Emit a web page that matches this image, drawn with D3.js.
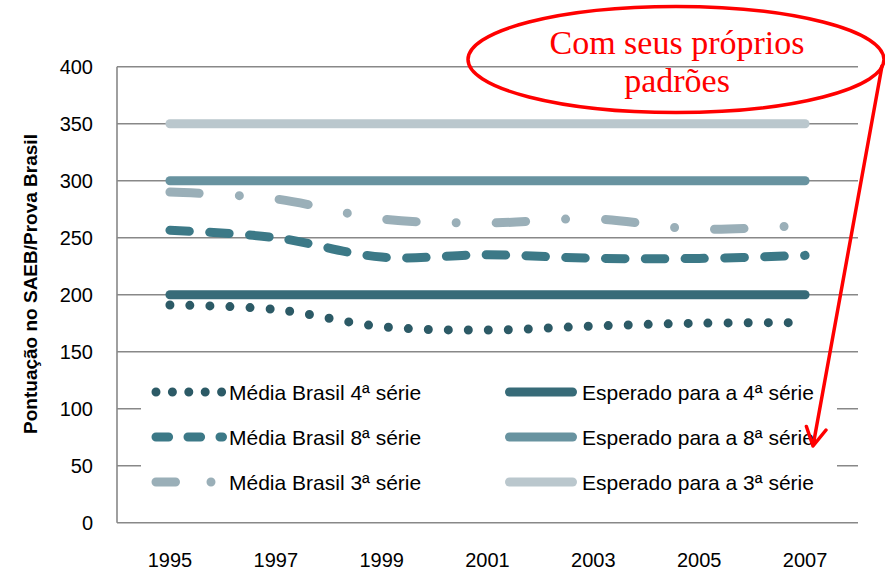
<!DOCTYPE html>
<html>
<head>
<meta charset="utf-8">
<script src="https://cdn.jsdelivr.net/npm/d3@7"></script>
<style>
  body { margin: 0; background: #fff; }
  svg { display: block; }
</style>
</head>
<body>
<div id="chart"></div>
<script>
// values (Língua Portuguesa, SAEB / Prova Brasil)
const years = [1995, 1997, 1999, 2001, 2003, 2005, 2007];
const yTicks = [0, 50, 100, 150, 200, 250, 300, 350, 400];
const media4 = [191, 187, 172, 169, 172.5, 175, 175.5];
const media8 = [256.5, 250, 233, 235, 232, 231.8, 234.5];
const media3 = [290, 284, 266.5, 263, 266.5, 257.5, 261];
const esperado4 = [200, 200, 200, 200, 200, 200, 200];
const esperado8 = [300, 300, 300, 300, 300, 300, 300];
const esperado3 = [350, 350, 350, 350, 350, 350, 350];
const seriesNames = [
    'Média Brasil 4ª série', 'Média Brasil 8ª série', 'Média Brasil 3ª série',
    'Esperado para a 4ª série', 'Esperado para a 8ª série', 'Esperado para a 3ª série'
];
const noteLines = ['Com seus próprios', 'padrões'];

const W = 885, H = 569;
const svg = d3.select('#chart').append('svg')
    .attr('width', W)
    .attr('height', H);

const x = d3.scaleLinear().domain([1994, 2008]).range([117, 858]);
const y = d3.scaleLinear().domain([0, 400]).range([522.7, 66.7]);

// grid
svg.append('g')
    .selectAll('line')
    .data(yTicks)
    .join('line')
    .attr('x1', x.range()[0])
    .attr('x2', x.range()[1])
    .attr('y1', d => y(d))
    .attr('y2', d => y(d))
    .attr('stroke', '#888')
    .attr('stroke-width', 1.6);

svg.append('line')
    .attr('x1', x.range()[0]).attr('x2', x.range()[0])
    .attr('y1', y(400)).attr('y2', y(0))
    .attr('stroke', '#888')
    .attr('stroke-width', 1.6);

// tick labels
svg.append('g')
    .selectAll('text')
    .data(yTicks)
    .join('text')
    .attr('x', 93)
    .attr('y', d => y(d))
    .attr('dy', '0.36em')
    .attr('text-anchor', 'end')
    .attr('font-family', 'Liberation Sans, Arial, sans-serif')
    .attr('font-size', 20)
    .text(d => d);

svg.append('g')
    .selectAll('text')
    .data(years)
    .join('text')
    .attr('x', d => x(d))
    .attr('y', 566.5)
    .attr('text-anchor', 'middle')
    .attr('font-family', 'Liberation Sans, Arial, sans-serif')
    .attr('font-size', 20)
    .text(d => d);

svg.append('text')
    .attr('transform', 'translate(37, 284) rotate(-90)')
    .attr('text-anchor', 'middle')
    .attr('font-family', 'Liberation Sans, Arial, sans-serif')
    .attr('font-weight', 'bold')
    .attr('font-size', 19)
    .text('Pontuação no SAEB/Prova Brasil');

// series
const styles = [
    { values: media4, color: '#2C5A66', dash: '0 20', legendDash: '0 16.4' },
    { values: media8, color: '#3C7987', dash: '19.5 20.3', legendDash: '12.6 19.4' },
    { values: media3, color: '#9AAFB8', dash: '29.5 40 0 40', legendDash: '19.5 35.5 0 35.5' },
    { values: esperado4, color: '#376B78', dash: null, legendDash: null },
    { values: esperado8, color: '#6893A0', dash: null, legendDash: null },
    { values: esperado3, color: '#BAC7CD', dash: null, legendDash: null }
];

const line = d3.line()
    .x((d, i) => x(years[i]))
    .y(d => y(d))
    .curve(d3.curveCatmullRom.alpha(0));

const plot = svg.append('g');
styles.forEach(s => {
    plot.append('path')
        .attr('d', line(s.values))
        .attr('fill', 'none')
        .attr('stroke', s.color)
        .attr('stroke-width', 9)
        .attr('stroke-linecap', 'round')
        .attr('stroke-linejoin', 'round')
        .attr('stroke-dasharray', s.dash);
});

// legend
const legend = svg.append('g');
legend.append('rect')
    .attr('x', 141).attr('y', 366)
    .attr('width', 696).attr('height', 140)
    .attr('fill', '#fff');

const rowY = [392, 437, 482];
styles.forEach((s, i) => {
    const col = i < 3 ? 0 : 1;
    const row = i % 3;
    const x0 = col === 0 ? 156 : 509.5;
    const x1 = col === 0 ? 222.5 : 572.5;
    legend.append('line')
        .attr('x1', x0).attr('x2', x1)
        .attr('y1', rowY[row]).attr('y2', rowY[row])
        .attr('stroke', s.color)
        .attr('stroke-width', 9)
        .attr('stroke-linecap', 'round')
        .attr('stroke-dasharray', s.legendDash);
    legend.append('text')
        .attr('x', col === 0 ? 229 : 582)
        .attr('y', rowY[row])
        .attr('dy', '0.36em')
        .attr('font-family', 'Liberation Sans, Arial, sans-serif')
        .attr('font-size', 21)
        .text(seriesNames[i]);
});

// red note
const note = svg.append('g');
note.append('ellipse')
    .attr('cx', 676).attr('cy', 59.5)
    .attr('rx', 208).attr('ry', 53)
    .attr('fill', 'none')
    .attr('stroke', '#FF0000')
    .attr('stroke-width', 3.5);

note.selectAll('text')
    .data(noteLines)
    .join('text')
    .attr('x', 677)
    .attr('y', (d, i) => 54 + i * 38)
    .attr('text-anchor', 'middle')
    .attr('font-family', 'Liberation Serif, serif')
    .attr('font-size', 34)
    .attr('fill', '#FF0000')
    .text(d => d);

note.append('path')
    .attr('d', 'M882,66 L813,446 M806.4,426.5 L813,446 L826,430')
    .attr('fill', 'none')
    .attr('stroke', '#FF0000')
    .attr('stroke-width', 3.5)
    .attr('stroke-linecap', 'round')
    .attr('stroke-linejoin', 'round');
</script>
</body>
</html>
